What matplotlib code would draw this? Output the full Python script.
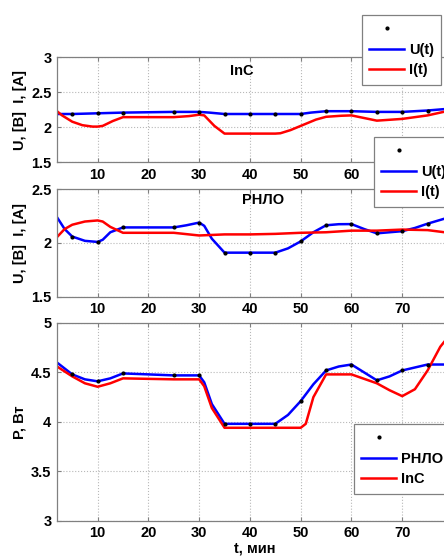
import matplotlib
matplotlib.use('Agg')
import matplotlib.pyplot as plt
import numpy as np

plt.rcParams['font.family'] = ['Liberation Sans', 'DejaVu Sans']
plt.rcParams['font.weight'] = 'bold'
plt.rcParams['font.size'] = 10.5

# --- DATA ---
# panel 1 : InC
t_u_inc = [2, 5, 10, 15, 20, 25, 30, 32, 35, 40, 45, 50, 52, 55, 60, 65, 70, 75, 80]
u_inc = [2.19, 2.19, 2.20, 2.21, 2.215, 2.22, 2.22, 2.21, 2.19, 2.19, 2.19, 2.19, 2.21,
         2.23, 2.23, 2.22, 2.22, 2.24, 2.27]
t_i_inc = [2, 3, 5, 7, 9, 10, 11, 13, 15, 20, 25, 28, 30, 31, 33, 35, 40, 45, 46, 48, 50,
           53, 55, 58, 60, 62, 65, 70, 75, 80]
i_inc = [2.23, 2.17, 2.08, 2.03, 2.01, 2.01, 2.02, 2.09, 2.145, 2.145, 2.145, 2.16, 2.18,
         2.17, 2.02, 1.91, 1.91, 1.91, 1.915, 1.96, 2.02, 2.11, 2.15, 2.165, 2.17, 2.14,
         2.095, 2.12, 2.17, 2.25]

# panel 2 : РНЛО
t_u_rnlo = [2, 3.5, 5, 7.5, 10, 11, 12.5, 15, 20, 25, 27.5, 30, 31, 32.5, 35, 40, 45, 47.5,
            50, 52.5, 55, 57.5, 60, 62.5, 65, 67.5, 70, 72.5, 75, 80]
u_rnlo = [2.24, 2.13, 2.06, 2.02, 2.01, 2.03, 2.10, 2.145, 2.145, 2.145, 2.165, 2.19, 2.16,
          2.04, 1.91, 1.91, 1.91, 1.95, 2.015, 2.10, 2.165, 2.175, 2.176, 2.13, 2.09, 2.10,
          2.11, 2.14, 2.18, 2.25]
t_i_rnlo = [2, 3.5, 5, 7.5, 10, 11, 12.5, 15, 20, 25, 30, 35, 40, 45, 50, 55, 60, 65, 70, 75, 80]
i_rnlo = [2.055, 2.13, 2.17, 2.20, 2.21, 2.20, 2.15, 2.095, 2.095, 2.095, 2.07, 2.08, 2.08,
          2.085, 2.095, 2.10, 2.115, 2.115, 2.125, 2.12, 2.09]

# panel 3 : power
t_p_rnlo = [2, 5, 7.5, 10, 12.5, 15, 20, 25, 30, 31, 32.5, 35, 40, 45, 47.5, 50, 52.5, 55,
            57.5, 60, 62.5, 65, 67.5, 70, 75, 80]
p_rnlo = [4.60, 4.48, 4.43, 4.41, 4.44, 4.49, 4.48, 4.47, 4.47, 4.40, 4.18, 3.98, 3.98, 3.98,
          4.07, 4.21, 4.38, 4.52, 4.56, 4.58, 4.50, 4.42, 4.46, 4.52, 4.58, 4.58]
t_p_inc = [2, 5, 7.5, 10, 12.5, 15, 20, 25, 30, 31, 32.5, 35, 40, 45, 50, 51, 52.5, 55, 60,
           65, 67.5, 70, 72.5, 75, 77.5, 80]
p_inc = [4.56, 4.46, 4.39, 4.355, 4.39, 4.44, 4.435, 4.43, 4.43, 4.36, 4.14, 3.94, 3.94, 3.94,
         3.94, 3.98, 4.25, 4.48, 4.48, 4.39, 4.32, 4.26, 4.33, 4.52, 4.76, 4.92]

# measurement instants marked with dots
t_marks = [5, 10, 15, 25, 30, 35, 40, 45, 50, 55, 60, 65, 70, 75]

x_ticks = [10, 20, 30, 40, 50, 60, 70, 80]

# --- FIGURE ---
W, H = 444, 556
fig = plt.figure(figsize=(W / 100, H / 100), dpi=100)

def px_axes(top, bottom, left=57, right=453):
    return fig.add_axes([left / W, 1 - bottom / H, (right - left) / W, (bottom - top) / H])

def style(ax, ylim, yticks):
    ax.set_xlim(2, 80)
    ax.set_ylim(*ylim)
    ax.set_xticks(x_ticks)
    ax.set_yticks(yticks)
    ax.set_yticklabels([f'{v:g}' for v in yticks])
    ax.grid(True, linestyle=':', color='#b8b8b8', linewidth=0.8)
    ax.tick_params(direction='in', top=True, right=True, length=3, labelsize=10.5, pad=4,
                   color='#808080')
    for lab in ax.get_xticklabels() + ax.get_yticklabels():
        lab.set_fontweight('bold')
    for sp in ax.spines.values():
        sp.set_color('#808080')
        sp.set_linewidth(0.9)

def marks(ax, t, y):
    ym = [y[t.index(v)] for v in t_marks]
    return ax.plot(t_marks, ym, 'k.', markersize=4, zorder=4)[0]

leg_kw = dict(loc='upper left', borderaxespad=0, frameon=True, fancybox=False,
              framealpha=1, edgecolor='#808080', handlelength=2.4, handletextpad=0.3,
              labelspacing=0.45, borderpad=0.5, prop={'weight': 'bold', 'size': 10.5})

# panel 1
ax1 = px_axes(57.3, 162.3)
dot1 = marks(ax1, t_u_inc, u_inc)
l1, = ax1.plot(t_u_inc, u_inc, color='#0000ff', lw=1.8)
l2, = ax1.plot(t_i_inc, i_inc, color='#ff0000', lw=1.8)
style(ax1, (1.5, 3), [1.5, 2, 2.5, 3])
ax1.text(38.5, 2.8, 'InC', ha='center', va='center', fontweight='bold', fontsize=10.5)
ax1.set_ylabel('U, [B]  I, [A]', fontweight='bold', labelpad=3)
leg = ax1.legend([dot1, l1, l2], [' ', 'U(t)', 'I(t)'],
                 bbox_to_anchor=((362 - 57) / 396, (162.3 - 15) / 105), **leg_kw)
leg.get_frame().set_linewidth(0.9)

# panel 2
ax2 = px_axes(189.3, 296.7)
dot2 = marks(ax2, t_u_rnlo, u_rnlo)
l3, = ax2.plot(t_u_rnlo, u_rnlo, color='#0000ff', lw=1.8)
l4, = ax2.plot(t_i_rnlo, i_rnlo, color='#ff0000', lw=1.8)
style(ax2, (1.5, 2.5), [1.5, 2, 2.5])
ax2.text(42.5, 2.4, 'РНЛО', ha='center', va='center', fontweight='bold', fontsize=10.5)
ax2.set_ylabel('U, [B]  I, [A]', fontweight='bold', labelpad=3)
leg = ax2.legend([dot2, l3, l4], [' ', 'U(t)', 'I(t)'],
                 bbox_to_anchor=((374 - 57) / 396, (296.7 - 137) / 107.4), **leg_kw)
leg.get_frame().set_linewidth(0.9)

# panel 3
ax3 = px_axes(323, 520.7)
dot3 = marks(ax3, t_p_rnlo, p_rnlo)
l5, = ax3.plot(t_p_rnlo, p_rnlo, color='#0000ff', lw=1.8)
l6, = ax3.plot(t_p_inc, p_inc, color='#ff0000', lw=1.8)
style(ax3, (3, 5), [3, 3.5, 4, 4.5, 5])
ax3.set_ylabel('P, Вт', fontweight='bold', labelpad=3)
ax3.set_xlabel('t, мин', fontweight='bold', labelpad=1)
leg = ax3.legend([dot3, l5, l6], [' ', 'РНЛО', 'InC'],
                 bbox_to_anchor=((354 - 57) / 396, (520.7 - 424) / 197.7), **leg_kw)
leg.get_frame().set_linewidth(0.9)

fig.savefig('out.png', dpi=100)
